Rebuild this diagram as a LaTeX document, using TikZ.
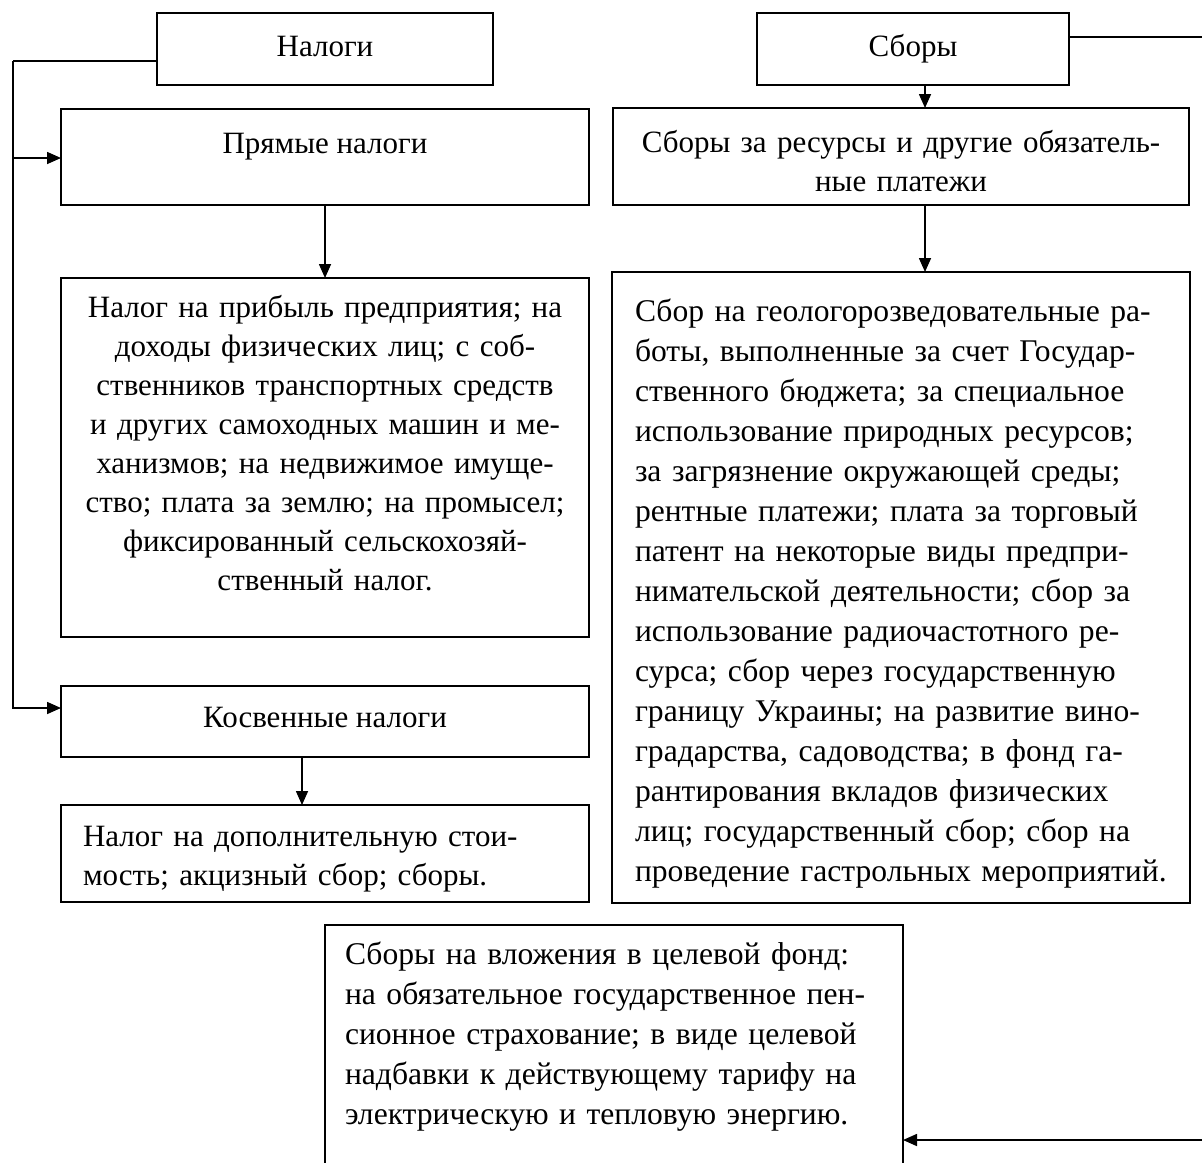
\documentclass[tikz,border=0pt]{standalone}
\usepackage{fontspec}
\setmainfont{Liberation Serif}
\usetikzlibrary{arrows.meta,calc}
\begin{document}
\begin{tikzpicture}[x=1pt,y=-1pt,
  box/.style={draw,line width=1.6pt,inner sep=0pt,outer sep=0pt},
  txt/.style={inner sep=0pt,outer sep=0pt,font=\fontsize{31}{39}\selectfont},
  txtw/.style={txt,font=\fontsize{31.6}{40}\selectfont},
  con/.style={line width=1.6pt},
  arr/.style={line width=1.6pt,-{Triangle[length=14pt,width=12pt]}}]
\useasboundingbox (0,0) rectangle (1202,1162);
\clip (0,0) rectangle (1202,1162);
% boxes
\node[box,minimum width=336pt,minimum height=72pt] (nal) at (325,49) {};
\node[box,minimum width=312pt,minimum height=72pt] (sb) at (913,49) {};
\node[box,minimum width=528pt,minimum height=96pt] (pr) at (325,157) {};
\node[box,minimum width=528pt,minimum height=359pt] (prt) at (325,457.5) {};
\node[box,minimum width=528pt,minimum height=71pt] (kos) at (325,721.5) {};
\node[box,minimum width=528pt,minimum height=97pt] (dop) at (325,853.5) {};
\node[box,minimum width=576pt,minimum height=97pt] (rs) at (901,156.5) {};
\node[box,minimum width=578pt,minimum height=631pt] (rsl) at (901,587.5) {};
\node[box,minimum width=578pt,minimum height=275pt] (bot) at (614,1062.5) {};
% texts
\node[txt,anchor=base] (tnal) at (325,56) {Налоги};
\node[txt,anchor=base] (tsb) at (913,56) {Сборы};
\node[txt,anchor=base] (tpr) at (325,153) {Прямые налоги};
\node[txt,anchor=north,text width=700pt,align=center] (tprt) at (325,289.7) {\strut Налог на прибыль предприятия; на\\
доходы физических лиц; с соб-\\
ственников транспортных средств\\
и других самоходных машин и ме-\\
ханизмов; на недвижимое имуще-\\
ство; плата за землю; на промысел;\\
фиксированный сельскохозяй-\\
ственный налог.};
\node[txt,anchor=base] (tkos) at (325,727) {Косвенные налоги};
\node[txt,anchor=north west,text width=700pt,align=left] (tdop) at (83,818.7) {\strut Налог на дополнительную стои-\\
мость; акцизный сбор; сборы.};
\node[txt,anchor=north,text width=700pt,align=center] (trs) at (901,124.7) {\strut Сборы за ресурсы и другие обязатель-\\
ные платежи};
\node[txtw,anchor=north west,text width=700pt,align=left] (trsl) at (635,293) {\strut Сбор на геологорозведовательные ра-\\
боты, выполненные за счет Государ-\\
ственного бюджета; за специальное\\
использование природных ресурсов;\\
за загрязнение окружающей среды;\\
рентные платежи; плата за торговый\\
патент на некоторые виды предпри-\\
нимательской деятельности; сбор за\\
использование радиочастотного ре-\\
сурса; сбор через государственную\\
границу Украины; на развитие вино-\\
градарства, садоводства; в фонд га-\\
рантирования вкладов физических\\
лиц; государственный сбор; сбор на\\
проведение гастрольных мероприятий.};
\node[txtw,anchor=north west,text width=700pt,align=left] (tbot) at (345,936) {\strut Сборы на вложения в целевой фонд:\\
на обязательное государственное пен-\\
сионное страхование; в виде целевой\\
надбавки к действующему тарифу на\\
электрическую и тепловую энергию.};
% connectors
\coordinate (lc) at (13,61);
\draw[con] (nal.west |- lc) -- (lc);
\draw[arr] (lc) |- (kos.west |- 0,708);
\draw[arr] (lc |- 0,158) -- (pr.west |- 0,158);
\draw[arr] (pr.south) -- (prt.north);
\draw[arr] (kos.south -| 302,0) -- (dop.north -| 302,0);
\draw[arr] (sb.south -| 925,0) -- (rs.north -| 925,0);
\draw[arr] (rs.south -| 925,0) -- (rsl.north -| 925,0);
\draw[arr] (sb.east |- 0,37) -| (1212,1140) -- (bot.east |- 0,1140);
\end{tikzpicture}
\end{document}
